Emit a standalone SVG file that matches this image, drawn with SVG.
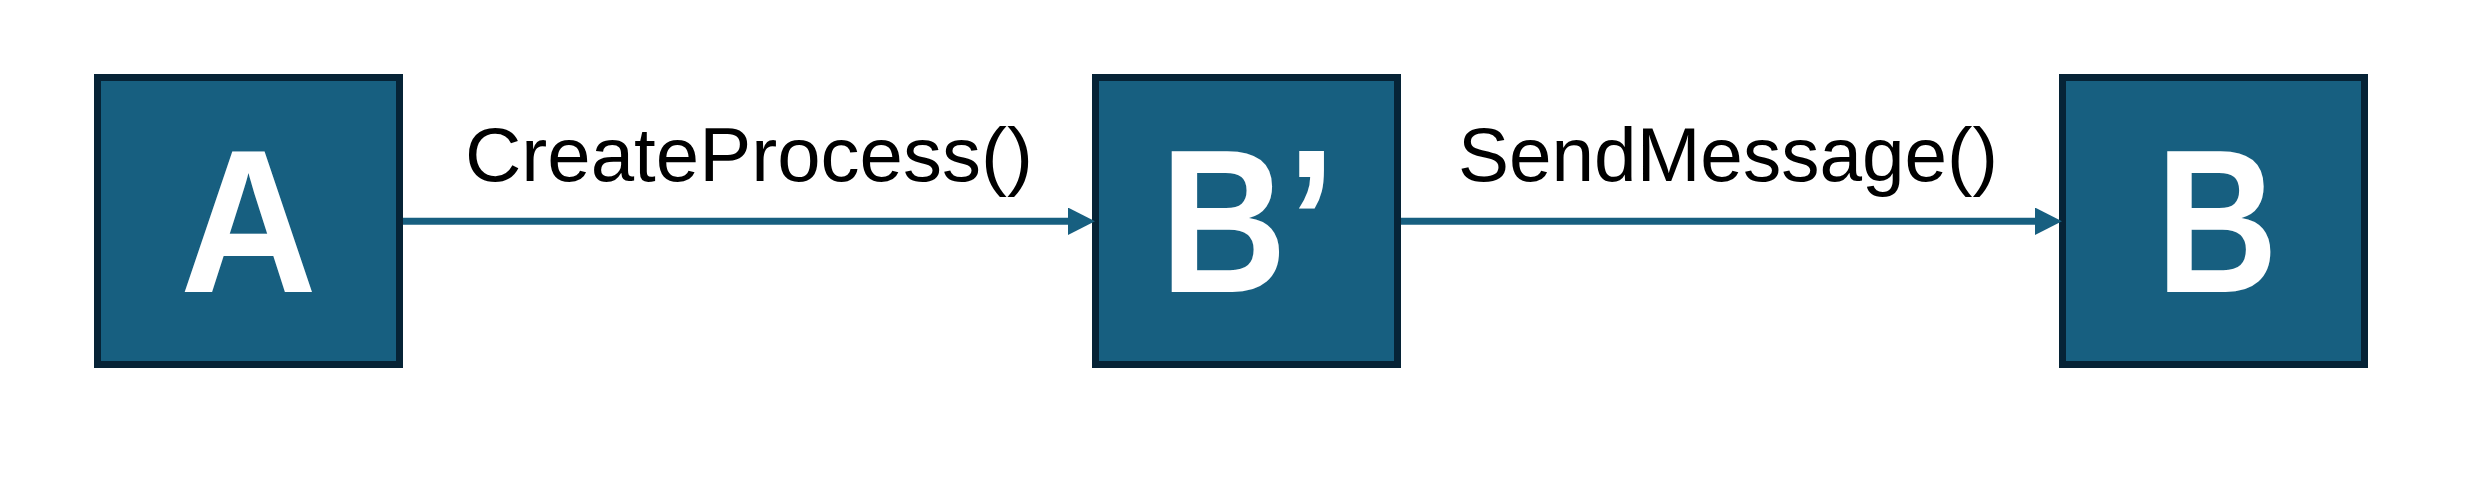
<svg xmlns="http://www.w3.org/2000/svg" width="2471" height="485" viewBox="0 0 2471 485">
  <style>
    .box { fill: #175F80; stroke: #062336; stroke-width: 7; }
    .big { font-family: "Liberation Sans", Arial, sans-serif; font-weight: bold; font-size: 204px; fill: #FFFFFF; text-anchor: middle; }
    .lbl { font-family: "Liberation Sans", Arial, sans-serif; font-size: 76px; fill: #000000; text-anchor: middle; }
    .edge { stroke: #175F80; stroke-width: 7; fill: none; marker-end: url(#arrow); }
  </style>
  <defs>
    <marker id="arrow" markerUnits="userSpaceOnUse" markerWidth="27" markerHeight="28" refX="2" refY="13.75" orient="auto">
      <path d="M0,0 L27,13.75 L0,27.5 Z" fill="#175F80"/>
    </marker>
  </defs>
  <rect width="2471" height="485" fill="#FFFFFF"/>
  <g id="node-A">
    <rect class="box" x="97.5" y="77.5" width="302" height="287"/>
    <text class="big" x="248.5" y="292" textLength="137" lengthAdjust="spacingAndGlyphs">A</text>
  </g>
  <g id="node-Bprime">
    <rect class="box" x="1095.5" y="77.5" width="302" height="287"/>
    <text class="big" x="1248" y="292" textLength="176" lengthAdjust="spacingAndGlyphs">B’</text>
  </g>
  <g id="node-B">
    <rect class="box" x="2062.5" y="77.5" width="302" height="287"/>
    <text class="big" x="2217" y="292" textLength="122" lengthAdjust="spacingAndGlyphs">B</text>
  </g>
  <g id="connectors">
    <line class="edge" x1="403" y1="221.3" x2="1070" y2="221.3"/>
    <line class="edge" x1="1401" y1="221.3" x2="2037" y2="221.3"/>
    <text class="lbl" x="749" y="181" textLength="568" lengthAdjust="spacingAndGlyphs">CreateProcess()</text>
    <text class="lbl" x="1728" y="181" textLength="540" lengthAdjust="spacingAndGlyphs">SendMessage()</text>
  </g>
</svg>
